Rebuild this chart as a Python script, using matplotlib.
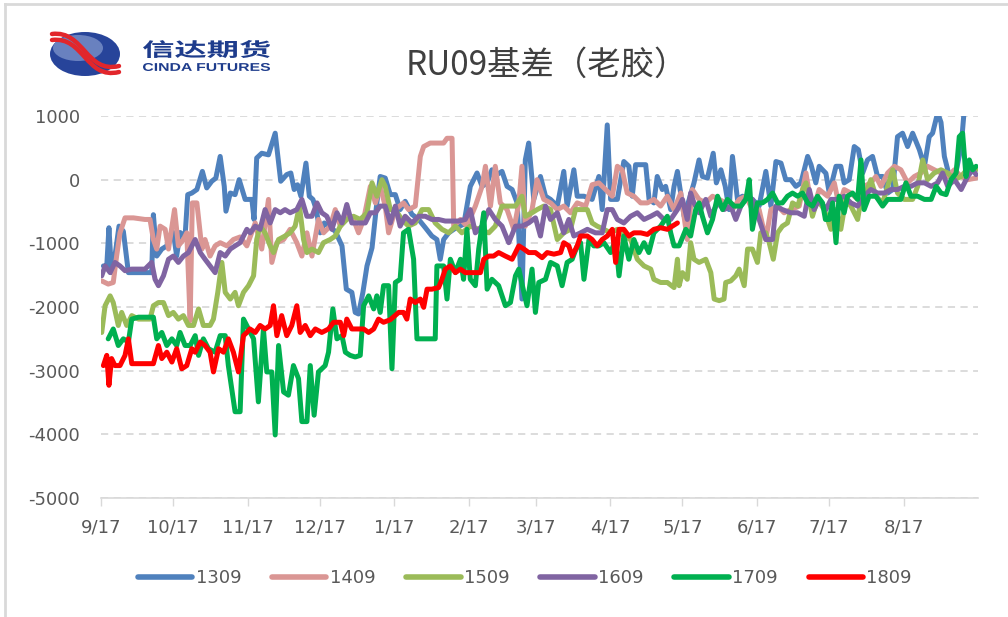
import numpy as np
import pandas as pd
import matplotlib
matplotlib.use('Agg')
import matplotlib.pyplot as plt
from matplotlib.lines import Line2D
from matplotlib.path import Path
from matplotlib.patches import PathPatch, Ellipse
from matplotlib.textpath import TextPath
from matplotlib.font_manager import FontProperties
from matplotlib.transforms import Affine2D

plt.rcParams['font.family'] = ['DejaVu Sans', 'Noto Sans CJK SC']
plt.rcParams['axes.unicode_minus'] = False

# x values are days counted from 9/17
start = pd.Timestamp('2016-09-17')
tick_labels = ['9/17', '10/17', '11/17', '12/17', '1/17', '2/17', '3/17',
               '4/17', '5/17', '6/17', '7/17', '8/17']

# 1309
d1309 = [1, 2.4, 3.3, 4.4, 5.8, 7.5, 9.3, 11.4, 21.1, 21.8, 23.2, 25.3, 27.4, 30.1, 31.5, 32.9, 35, 36.1, 37.8,
         39.9, 42.2, 44, 46.1, 47.8, 49.6, 51.3, 52, 53.8, 55.8, 57.5, 60, 62.8, 63.7, 64.8, 66.9, 69.7, 72.5,
         74.8, 77.3, 79, 80.4, 81.8, 83.2, 85.3, 86.7, 88.2, 89.6, 91.2, 92.9, 97.5, 100.3, 102.1, 104.4, 105.8,
         107.2, 109, 110.7, 112.8, 114.8, 116.2, 118.3, 120.4, 122.5, 124.5, 126.6, 129.4, 132.2, 135, 137.7,
         139.8, 141.2, 142.6, 144.7, 148, 151, 153.7, 156.5, 158.6, 160.7, 162.7, 164.8, 166.9, 169, 171.1,
         173.2, 175.2, 176.6, 178, 179.4, 180.1, 182.9, 185, 187.1, 189.9, 192.6, 194, 196.8, 198.2, 201, 204.4,
         207.2, 208.6, 210.7, 212.1, 214.9, 217.6, 219.7, 221.1, 222.5, 226.7, 228.1, 230.1, 231.5, 233.6, 235,
         237.1, 238.5, 239.9, 242.7, 244.8, 246.8, 248.9, 250.3, 252.4, 254.8, 256.1, 258, 259.8, 261.4, 262.8,
         264.9, 267, 271.1, 273.9, 276.7, 278.8, 280.9, 283, 285, 287.1, 289.2, 291.3, 294.1, 295.5, 297.5,
         298.9, 301.7, 303.1, 304.5, 305.9, 307.9, 309.3, 311.4, 313.5, 315.2, 317, 319, 321.1, 323.2, 325.3,
         327.4, 329.5, 331.5, 333.6, 335.7, 337.8, 340.6, 342.7, 344.7, 346.1, 348.2, 349.6, 351, 353.1, 355.2,
         358, 359.5]
v1309 = [-1355, -1355, -755, -1460, -1200, -730, -810, -1460, -1460, -550, -1200, -1090, -1040, -830, -1200, -830,
         -885, -235, -210, -155, 130, -130, -25, 25, 365, -105, -495, -210, -235, 0, -310, -310, -625, 340, 415,
         390, 730, -25, 80, 105, -155, -80, -260, 260, -260, -310, -470, -835, -680, -810, -1040, -1720, -1770,
         -2085, -2110, -1770, -1355, -1070, -365, 50, 25, -235, -235, -470, -340, -545, -625, -755, -885, -940,
         -1250, -940, -835, -750, -700, -105, 105, -105, -50, 155, 80, 130, -105, -155, -365, -1875, 310, 575, 0,
         -310, 50, -260, -310, -415, 130, -415, 155, -260, -260, -310, 50, -470, 860, -310, -310, 285, 210, -260,
         235, 235, -310, -365, 50, -155, -105, -470, -105, 130, -575, -310, -50, 310, 50, 25, 415, -50, 155, -105,
         -470, 365, -310, -260, -310, -415, 130, -415, 285, 260, 0, 0, -105, -50, 365, 235, -50, 210, 100, -210,
         0, 210, 210, -50, 0, 520, 470, 105, 310, 365, 50, 50, -210, -155, 675, 730, 520, 730, 470, 210, 675, 730,
         1050, 900, 365, 50, 0, 520, 1200]

# 1409
d1409 = [0.3, 3, 5.1, 6.5, 7.9, 10, 13.5, 18.3, 20.4, 21.8, 23.2, 24.6, 26.7, 28.1, 30.6, 32.2, 34.3, 35.7, 37.1,
         38, 39.9, 42, 43.3, 45.4, 47.5, 49.6, 52.4, 55.1, 57.9, 60.7, 64.2, 66.9, 69.7, 71.1, 73.2, 76, 78.7,
         81.5, 83.6, 85.7, 87.8, 90.5, 92.6, 95.4, 97.5, 99.6, 102.3, 105.1, 107.2, 109.3, 112.1, 114.2, 116.2,
         118.3, 119.7, 122.5, 125.9, 128, 130.8, 132.9, 134.3, 137, 142.6, 144, 146.1, 146.8, 149.6, 152.3, 155.8,
         158.6, 160, 162.1, 164.1, 166.2, 169, 171.8, 173.9, 175.2, 176.6, 179.4, 181.5, 184.3, 187.1, 189.9,
         192.6, 195.4, 198.2, 201.7, 204.4, 207.2, 210, 212.8, 214.9, 216.9, 219, 221.8, 224.6, 227.4, 230.1,
         232.9, 235.7, 238.5, 241.3, 244, 246.1, 248.9, 251.7, 254.5, 257.3, 260, 262.8, 265.6, 268.4, 271.1,
         273.9, 276.7, 278.8, 281.6, 284.3, 287.1, 290.6, 293.4, 296.1, 298.9, 302.4, 305.2, 307.2, 309.3, 312.1,
         314.9, 317.6, 320.4, 322.5, 324.6, 327.4, 330.2, 332.9, 335.7, 338.5, 341.3, 344, 346.8, 349.6, 352.4,
         355.2, 358, 360.7, 364.2]
v1409 = [-1590, -1640, -1615, -1200, -835, -600, -600, -625, -625, -940, -1090, -730, -780, -1090, -470, -1040,
         -940, -835, -2215, -365, -365, -1090, -940, -1200, -1040, -990, -1040, -940, -900, -1040, -680, -1090,
         -310, -1300, -990, -940, -780, -990, -1200, -835, -1200, -625, -835, -730, -470, -730, -575, -625, -835,
         -625, -105, -365, -105, -415, -835, -470, -365, -470, -415, 365, 520, 575, 575, 650, 650, -730, -625,
         -730, -415, -105, 210, -415, 210, -365, -470, -780, -365, 210, -730, -470, 0, -310, -365, -470, -415,
         -520, -365, -415, -80, -50, -155, -260, 210, 155, -210, -260, -365, -365, -310, -415, -260, -470, -210,
         -940, -155, -310, -365, -260, -310, -365, -470, -310, -260, -470, -470, -940, -470, -415, -520, -470,
         -415, 105, -520, -155, -260, -50, -415, -155, -210, -310, -105, -50, 50, -105, 105, 210, 155, -50, 50,
         105, 210, 155, 105, 50, 155, 50, 0, 25]

# 1509
d1509 = [0.3, 1.7, 3.8, 5.1, 7.2, 8.6, 10.7, 12.8, 15.6, 20.4, 21.8, 23.9, 26, 28.1, 30.1, 32.2, 34.3, 36.4, 38.5,
         40.6, 42.6, 45.4, 46.8, 48.6, 50.3, 51.7, 53.8, 55.8, 57.2, 59.3, 61.4, 63.5, 64.8, 66.2, 68.3, 70.4,
         71.8, 73.9, 76.6, 78.7, 80.8, 82.6, 84.3, 85.7, 87.8, 90.5, 92.6, 95.4, 97.5, 99.6, 102.3, 105.1, 107.9,
         110.7, 112.8, 114.8, 116.9, 118.3, 120.4, 122.5, 125.2, 128, 130.8, 133.6, 136.4, 139.1, 141.9, 144.7,
         147.5, 150.2, 153.7, 157.2, 161.4, 164.1, 166.9, 169.7, 172.5, 175.2, 176.6, 179.4, 181.5, 184.3, 187.1,
         189.9, 192.6, 195.4, 197.5, 199.6, 202.4, 204.4, 206.5, 209.3, 212.1, 214.9, 217.6, 220.4, 223.2, 226,
         228.8, 230.1, 232.9, 235.7, 238.5, 239.9, 240.6, 242, 244, 245.4, 246.8, 248.9, 251.7, 253.8, 255.2,
         257.3, 259.3, 260, 262.1, 264.2, 265.6, 267.7, 269.1, 271.1, 273.2, 274.6, 276.7, 278.1, 279.8, 281.6,
         283.6, 285.7, 287.8, 290, 292, 293.4, 294.8, 296.1, 298.2, 301, 303.8, 305.9, 307.9, 310, 312.1, 314.9,
         316.3, 318.4, 320.4, 322.5, 325.3, 327.4, 329.5, 331.5, 334.3, 337.8, 339.9, 342, 344, 346.8, 349.6,
         352.4, 355.2, 358, 361.4, 364.2]
v1509 = [-2400, -1980, -1825, -1930, -2290, -2085, -2290, -2135, -2190, -2190, -1980, -1930, -1930, -2135, -2085,
         -2190, -2135, -2290, -2290, -2030, -2290, -2290, -2190, -1770, -1300, -1770, -1875, -1770, -1980, -1770,
         -1665, -1510, -940, -730, -835, -1040, -1145, -940, -885, -835, -730, -415, -940, -1145, -1090, -1145,
         -990, -940, -885, -730, -625, -575, -625, -520, -50, -260, 0, -105, -470, -470, -625, -730, -680, -470,
         -470, -680, -780, -835, -730, -835, -730, -780, -835, -730, -415, -415, -415, -260, -575, -520, -470,
         -415, -470, -940, -835, -780, -470, -470, -470, -680, -730, -780, -835, -780, -885, -940, -1250, -1355,
         -1405, -1565, -1615, -1615, -1695, -1250, -1665, -1460, -1565, -990, -1250, -1300, -1250, -1460, -1875,
         -1900, -1875, -1615, -1590, -1510, -1405, -1665, -1090, -1090, -1300, -835, -835, -990, -1250, -835,
         -730, -680, -365, -415, -155, -50, -310, -575, -310, -470, -780, -470, -780, -310, -415, -625, -310,
         -210, 0, -260, -365, -105, 155, -210, -310, -310, -105, 310, 0, 105, 155, 105, 0, 50, 210, 155]

# 1609
d1609 = [0.3, 1.7, 3.8, 5.8, 7.9, 10, 12.8, 18.3, 21.1, 22.5, 23.9, 26, 28.1, 30.1, 32.2, 34.3, 36.4, 39.2, 41.3,
         43.3, 45.4, 47.5, 49.6, 51.7, 53.8, 55.8, 57.9, 60.7, 62.1, 64.2, 66.2, 68.3, 70.4, 72.5, 74.6, 76.6,
         78.7, 81.5, 83.6, 85.7, 87.8, 89.9, 91.9, 94, 96.1, 98.2, 100.3, 102.3, 104.4, 107.2, 110, 112.1, 114.2,
         116.2, 118.3, 120.4, 122.5, 124.5, 126.6, 129.4, 132.2, 135, 137.7, 140.5, 143.3, 146.1, 148.9, 151.6,
         153.7, 155.8, 158.6, 161.4, 164.1, 166.9, 169.7, 172.5, 175.2, 178, 180.8, 182.9, 185, 187.1, 189.9,
         192.6, 194.7, 196.8, 199.6, 202.4, 205.8, 208.6, 210.7, 212.8, 214.9, 217.6, 220.4, 223.2, 226, 228.8,
         231.5, 234.3, 237.1, 239.9, 242, 244, 245.4, 246.8, 248.9, 251.7, 253.8, 256.6, 259.3, 262.1, 264.2,
         266.3, 269.1, 271.1, 273.9, 276.7, 279.5, 280.9, 283.6, 287.1, 289.9, 292.7, 294.8, 296.8, 298.9, 301.7,
         303.8, 306.5, 309.3, 312.1, 314.9, 317.6, 320.4, 323.2, 326, 328.8, 331.5, 334.3, 337.1, 339.9, 342.7,
         345.5, 348.2, 350.3, 352.4, 355.2, 358, 360.7, 362.8, 364.2]
v1609 = [-1510, -1355, -1460, -1300, -1355, -1430, -1405, -1405, -1300, -1565, -1665, -1510, -1250, -1200, -1300,
         -1200, -1145, -940, -1145, -1250, -1355, -1460, -1145, -1200, -1090, -1040, -990, -780, -835, -730, -780,
         -470, -680, -470, -520, -470, -520, -470, -310, -575, -575, -365, -520, -575, -780, -520, -680, -390,
         -680, -680, -680, -520, -520, -415, -415, -680, -415, -730, -575, -680, -575, -575, -625, -625, -650,
         -650, -650, -625, -470, -835, -730, -470, -625, -730, -990, -730, -730, -680, -600, -885, -415, -625,
         -520, -835, -625, -885, -835, -780, -835, -835, -470, -470, -625, -680, -575, -520, -625, -575, -520,
         -625, -625, -470, -310, -625, -210, -365, -520, -310, -575, -365, -470, -415, -625, -415, -260, -310,
         -625, -940, -940, -415, -470, -520, -520, -575, -155, -470, -310, -470, -310, -310, -260, -365, -415,
         -260, -155, -210, -210, -155, -155, -105, -105, -50, -50, -105, -50, 105, -105, 0, -155, 50, 155, 80]

# 1709
d1709 = [3, 5.1, 7.2, 9.3, 11.4, 12.8, 15.6, 21.8, 23.2, 25.3, 27.4, 29.5, 31.5, 32.9, 35, 37.1, 39.2, 40.6, 42.6,
         44.7, 47.5, 49.6, 51.7, 53, 54.4, 55.8, 57.9, 59.3, 61.4, 63.5, 65.5, 67.6, 69, 71.1, 72.5, 73.9, 76, 78,
         80.1, 82.2, 83.6, 85.7, 87.1, 88.7, 90.5, 93.3, 94.7, 96.5, 98.2, 100.3, 101.7, 103.7, 105.8, 107.9,
         109.3, 111.4, 113.5, 114.8, 116.2, 117.6, 119.7, 121.1, 122.5, 124.5, 125.9, 128, 130.1, 131.5, 139.1,
         139.8, 142.6, 144, 145.4, 147.5, 149.6, 150.9, 152.3, 153.7, 155.8, 157.2, 159.3, 160.7, 162.7, 165.5,
         168.3, 170.4, 172.5, 173.9, 176, 177.3, 179.4, 180.8, 182.2, 185, 187.1, 189.9, 191.9, 194, 196.1, 198.2,
         199.6, 201, 203.1, 205.1, 207.2, 209.3, 212.1, 214.2, 215.6, 217.6, 219.7, 221.8, 223.9, 226, 228, 230.1,
         232.9, 235.7, 237.1, 238.5, 240.6, 243.4, 245.4, 247.5, 248.9, 250.3, 252.4, 254.5, 256.6, 258.7, 260.7,
         263.5, 266.3, 268.4, 269.8, 271.1, 273.2, 275.3, 277.4, 279.5, 281.6, 283.6, 285.7, 287.8, 289.9, 292,
         294.1, 296.1, 298.2, 300.3, 301.5, 303.1, 304.5, 305.9, 307.2, 309.3, 310.7, 312.8, 314.9, 316.3, 317.6,
         319.7, 322.5, 325.3, 327.4, 330.2, 332.9, 335, 337.1, 339.9, 342.7, 345.5, 347.6, 349.6, 351.7, 353.8,
         355.9, 357.2, 358.6, 360, 361.4, 362.8, 364.2]
v1709 = [-2500, -2345, -2605, -2500, -2550, -2190, -2160, -2160, -2500, -2400, -2605, -2500, -2605, -2400, -2605,
         -2605, -2450, -2760, -2500, -2655, -2710, -2450, -2450, -2920, -3280, -3645, -3645, -2190, -2345, -2500,
         -3490, -2345, -3020, -3020, -4010, -2605, -3335, -3385, -2920, -3125, -3800, -3800, -2920, -3700, -3020,
         -2920, -2710, -2030, -2500, -2450, -2710, -2760, -2785, -2760, -1980, -1825, -2030, -1825, -2085, -1665,
         -1665, -2970, -1615, -1565, -835, -780, -1250, -2500, -2500, -1355, -1355, -1875, -1250, -1460, -1250,
         -1565, -780, -1565, -1665, -1090, -520, -1720, -1565, -1665, -1980, -1930, -1510, -1405, -1770, -1980,
         -1405, -2085, -1615, -1565, -1300, -1355, -1665, -1300, -1250, -1040, -990, -1565, -940, -1040, -1040,
         -990, -1145, -940, -1510, -885, -1250, -940, -1145, -990, -1145, -835, -730, -575, -835, -1040, -1040,
         -780, -885, -470, -365, -575, -835, -625, -260, -470, -310, -415, -415, -310, 0, -780, -365, -365, -310,
         -210, -365, -365, -260, -210, -260, -210, -365, -415, -260, -365, -625, -625, -365, -990, -260, -520,
         -260, -210, -310, 310, -470, -260, -260, -415, -310, -310, -310, -50, -260, -260, -310, -310, -105, -210,
         -235, 0, 105, 675, 730, 50, 310, 155, 210]

# 1809
d1809 = [1, 2.4, 3.3, 4.4, 5.8, 7.9, 10, 11.4, 12.8, 21.8, 23.9, 25.3, 27.4, 29.5, 31.5, 33.6, 35.7, 37.8, 39.2,
         41.3, 43.3, 45.4, 46.8, 48.9, 51, 53, 55.1, 57.2, 59.3, 60.7, 62, 64.2, 66.2, 68.3, 70.4, 71.8, 73.2,
         75.2, 77.3, 79.4, 81.5, 82.9, 85, 87.1, 89.2, 91.9, 94.7, 96.8, 99.6, 101, 102.3, 104.4, 107.2, 109.3,
         111.4, 113.5, 115.5, 117.6, 120.4, 123.9, 125.9, 127.3, 128.7, 130.8, 132.9, 134.3, 135.7, 137.7, 140.5,
         141.9, 143.3, 145.4, 147.5, 149.6, 151.6, 155.8, 157.9, 159.3, 161.4, 163.4, 165.5, 168.3, 171.1, 173.9,
         176, 178, 180.8, 183.6, 185.7, 188.5, 191.3, 192.6, 194.7, 196.1, 198.2, 199.6, 202.4, 204.4, 206.5,
         208.6, 210.7, 212.8, 214.2, 215.6, 217.6, 219.7, 221.8, 224.6, 227.4, 230.1, 232.9, 235.7, 237.8, 239.9]
v1809 = [-2920, -2760, -3230, -2810, -2920, -2920, -2760, -2500, -2890, -2890, -2605, -2810, -2710, -2865, -2655,
         -2970, -2920, -2655, -2710, -2550, -2605, -2710, -3020, -2655, -2710, -2500, -2710, -3020, -2450, -2400,
         -2345, -2400, -2290, -2345, -2290, -1980, -2450, -2135, -2450, -2290, -1980, -2400, -2290, -2450, -2345,
         -2400, -2345, -2240, -2240, -2450, -2190, -2345, -2345, -2345, -2400, -2345, -2190, -2240, -2200, -2085,
         -2085, -2190, -1875, -1930, -1875, -2005, -1720, -1720, -1695, -1565, -1405, -1355, -1460, -1405, -1460,
         -1460, -1460, -1250, -1200, -1200, -1145, -1200, -1250, -1040, -1090, -1145, -1145, -1225, -1145, -1170,
         -1145, -990, -1040, -1200, -1040, -885, -885, -940, -1040, -940, -885, -780, -1300, -780, -780, -885,
         -835, -835, -860, -780, -755, -780, -730, -680]

series = [('1309', d1309, v1309, '#4F81BD'),
          ('1409', d1409, v1409, '#DA9694'),
          ('1509', d1509, v1509, '#9BBB59'),
          ('1609', d1609, v1609, '#8064A2'),
          ('1709', d1709, v1709, '#00B050'),
          ('1809', d1809, v1809, '#FF0000')]

W, H = 1008, 617
fig = plt.figure(figsize=(W / 100, H / 100), dpi=100)
ax = fig.add_axes([101 / W, 1 - 498 / H, 877 / W, 382 / H])

for name, d, v, c in series:
    x = start + pd.to_timedelta(d, unit='D')
    ax.plot(x, v, color=c, lw=3.6, label=name,
            solid_joinstyle='round', solid_capstyle='round')

ax.set_ylim(-5000, 1000)
ax.set_yticks(range(-5000, 1001, 1000))
ax.set_xlim(start, start + pd.Timedelta(days=365))
ticks = pd.date_range(start, periods=12, freq=pd.DateOffset(months=1))
ax.set_xticks(ticks)
ax.set_xticklabels(tick_labels)

ax.grid(axis='y', color='#D9D9D9', lw=1.3, linestyle=(0, (4, 3)))
ax.grid(axis='x', visible=False)
ax.set_axisbelow(True)
for s in ['top', 'right', 'left']:
    ax.spines[s].set_visible(False)
ax.spines['bottom'].set_color('#D9D9D9')
ax.spines['bottom'].set_linewidth(1.2)
ax.tick_params(axis='y', length=0, pad=15, labelsize=13, labelcolor='#595959')
ax.tick_params(axis='x', length=6, width=1, color='#D9D9D9', direction='out',
               pad=9, labelsize=13, labelcolor='#595959')

# legend
handles = [Line2D([0], [0], color=c, lw=4, solid_capstyle='round') for _, _, _, c in series]
fig.legend(handles, [s[0] for s in series], loc='center', bbox_to_anchor=(525 / W, 1 - 578 / H),
           ncol=6, frameon=False, fontsize=13, handlelength=3.0, handletextpad=0.2,
           columnspacing=1.7, labelcolor='#595959')

# title
fig.text(547 / W, 1 - 65 / H, 'RU09基差（老胶）', ha='center', va='center',
         fontsize=24, color='#404040', family=['Noto Sans CJK SC', 'DejaVu Sans'])

# chart border
fig.add_artist(Line2D([5 / W, 5 / W], [0, 1 - 4 / H], color='#D9D9D9', lw=2))
fig.add_artist(Line2D([5 / W, 1], [1 - 4 / H, 1 - 4 / H], color='#D9D9D9', lw=2))

# logo, drawn in pixel units (y measured upward)
lax = fig.add_axes([0, 0, 1, 1], zorder=-1)
lax.set_xlim(0, W)
lax.set_ylim(0, H)
lax.axis('off')
lax.add_patch(Ellipse((85, H - 54), 70, 44, facecolor='#27449A', edgecolor='none'))
lax.add_patch(Ellipse((78, H - 48), 50, 26, facecolor='#8EA2D4', edgecolor='none', alpha=0.65))
for off in (0, 6):
    swoosh = Path([(52, H - 34 - off), (84, H - 30 - off), (86, H - 74 - off), (119, H - 66 - off)],
                  [Path.MOVETO, Path.CURVE4, Path.CURVE4, Path.CURVE4])
    lax.add_patch(PathPatch(swoosh, fill=False, edgecolor='#E2262B', lw=3.2, capstyle='round'))


def stretched_text(s, x0, x1, y0, y1, prop, color):
    tp = TextPath((0, 0), s, size=10, prop=prop)
    bb = tp.get_extents()
    tr = (Affine2D().translate(-bb.x0, -bb.y0)
          .scale((x1 - x0) / bb.width, (y1 - y0) / bb.height)
          .translate(x0, H - y1))
    lax.add_patch(PathPatch(tr.transform_path(tp), facecolor=color, edgecolor='none'))


stretched_text('信达期货', 143, 270, 40, 58,
               FontProperties(family='Noto Sans CJK SC', weight='bold'), '#1E3C8C')
stretched_text('CINDA FUTURES', 143, 270, 63, 71,
               FontProperties(family='Liberation Sans', weight='bold'), '#1E3C8C')

fig.savefig('out.png', dpi=100)
